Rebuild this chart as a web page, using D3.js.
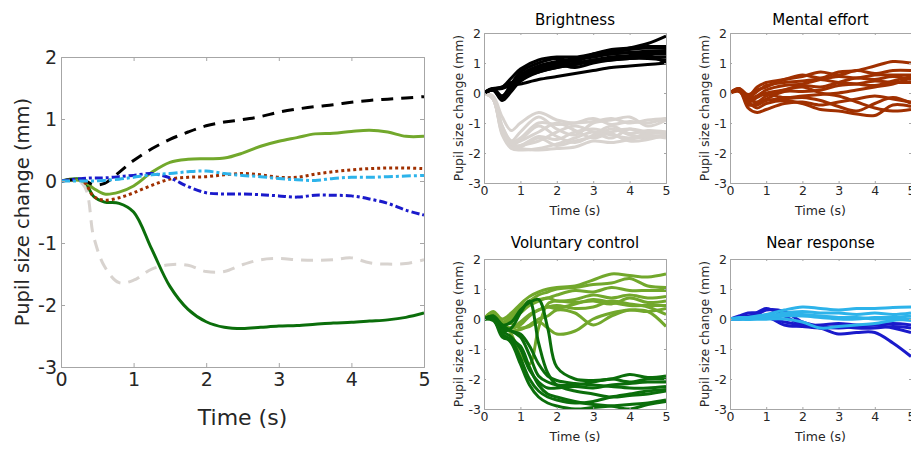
<!DOCTYPE html>
<html>
<head>
<meta charset="utf-8">
<title>Pupil size change</title>
<script src="https://d3js.org/d3.v7.min.js"></script>
<style>
  body { margin: 0; background: #fff; }
  svg { display: block; font-family: "DejaVu Sans", Verdana, sans-serif; }
  .tick text { fill: #262626; }
</style>
</head>
<body>
<div class="chart"></div>
<script>
  // ---- main panel: mean traces ----
  const mainTime = [0, 0.3, 0.45, 0.6, 0.8, 1, 1.25, 1.5, 1.75, 2, 2.25, 2.5, 2.75, 3, 3.25, 3.5, 3.75, 4, 4.25, 4.5, 4.75, 5];
  const meanGray      = [0, -0.05, -0.9, -1.38, -1.64, -1.6, -1.42, -1.35, -1.36, -1.46, -1.46, -1.35, -1.27, -1.25, -1.27, -1.28, -1.27, -1.24, -1.32, -1.34, -1.33, -1.27];
  const meanDarkGreen = [0, 0.02, -0.25, -0.34, -0.36, -0.5, -1.1, -1.7, -2.07, -2.27, -2.36, -2.38, -2.36, -2.34, -2.33, -2.31, -2.29, -2.28, -2.26, -2.24, -2.2, -2.13];
  const meanLightGreen= [0, 0, -0.12, -0.21, -0.18, -0.08, 0.14, 0.3, 0.35, 0.36, 0.37, 0.45, 0.56, 0.64, 0.7, 0.76, 0.77, 0.8, 0.82, 0.79, 0.72, 0.72];
  const meanBlack     = [0, 0.02, -0.06, -0.04, 0.14, 0.33, 0.52, 0.67, 0.79, 0.89, 0.95, 0.99, 1.04, 1.11, 1.16, 1.2, 1.23, 1.27, 1.3, 1.32, 1.34, 1.36];
  const meanBrown     = [0, 0, -0.25, -0.31, -0.27, -0.19, -0.07, 0.03, 0.06, 0.07, 0.1, 0.12, 0.1, 0.06, 0.06, 0.11, 0.15, 0.18, 0.2, 0.21, 0.21, 0.2];
  const meanCyan      = [0, 0, 0, 0.01, 0.03, 0.06, 0.1, 0.12, 0.15, 0.16, 0.12, 0.09, 0.07, 0.04, 0.02, 0.01, 0.04, 0.06, 0.06, 0.07, 0.08, 0.09];
  const meanBlue      = [0, 0.04, 0.05, 0.05, 0.07, 0.09, 0.12, 0.05, -0.09, -0.19, -0.21, -0.21, -0.22, -0.24, -0.26, -0.23, -0.23, -0.24, -0.29, -0.36, -0.47, -0.55];

  // ---- Brightness panel ----
  const brightTime = [0, 0.25, 0.5, 0.75, 1, 1.5, 2, 2.5, 3, 3.5, 4, 4.5, 5];
  const brightGray = [
    [0, -0.1, -0.8, -1.25, -1.0, -0.65, -0.9, -1.0, -0.95, -0.85, -1.0, -0.9, -0.85],
    [0, -0.15, -1.1, -1.6, -1.3, -0.8, -1.2, -1.4, -1.0, -0.9, -0.8, -1.1, -0.9],
    [0, -0.2, -1.3, -1.8, -1.75, -1.6, -1.3, -1.1, -1.3, -1.5, -1.2, -1.3, -1.3],
    [0, -0.2, -1.4, -1.85, -1.9, -1.85, -1.7, -1.5, -1.3, -1.4, -1.5, -1.35, -1.35],
    [0, -0.15, -1.2, -1.7, -1.6, -1.3, -1.0, -1.25, -1.5, -1.3, -1.2, -1.4, -1.45],
    [0, -0.2, -1.35, -1.75, -1.8, -1.5, -1.75, -1.6, -1.45, -1.2, -1.4, -1.5, -1.4],
    [0, -0.2, -1.3, -1.8, -1.85, -1.9, -1.85, -1.8, -1.6, -1.65, -1.55, -1.45, -1.5],
    [0, -0.15, -1.1, -1.6, -1.55, -1.1, -1.45, -1.65, -1.4, -1.1, -1.35, -1.25, -1.3],
    [0, -0.2, -1.25, -1.7, -1.75, -1.45, -1.55, -1.3, -1.2, -1.35, -1.6, -1.55, -1.4],
    [0, -0.15, -1.2, -1.65, -1.5, -1.0, -1.05, -1.0, -0.85, -1.05, -0.95, -1.0, -0.85]
  ];
  const brightBlack = [
    [0, 0.15, 0.2, 0.5, 0.8, 1.1, 1.2, 1.2, 1.3, 1.4, 1.5, 1.65, 1.9],
    [0, 0.15, -0.1, 0.3, 0.7, 1.0, 1.15, 1.05, 1.3, 1.45, 1.5, 1.55, 1.55],
    [0, 0.12, -0.2, 0.2, 0.6, 0.9, 1.05, 1.15, 1.25, 1.35, 1.45, 1.5, 1.5],
    [0, 0.1, -0.15, 0.15, 0.5, 0.85, 1.0, 1.1, 1.2, 1.3, 1.35, 1.4, 1.42],
    [0, 0.12, 0.2, 0.35, 0.45, 0.75, 0.95, 1.1, 1.25, 1.3, 1.35, 1.35, 1.38],
    [0, 0.1, -0.25, 0.05, 0.4, 0.75, 0.9, 1.0, 1.1, 1.2, 1.25, 1.3, 1.3],
    [0, 0.1, -0.2, 0.1, 0.45, 0.8, 0.95, 0.85, 1.0, 1.1, 1.15, 1.2, 1.2],
    [0, 0.1, -0.1, 0.2, 0.5, 0.7, 0.85, 0.95, 1.05, 1.1, 1.15, 1.15, 1.1],
    [0, 0.12, 0.15, 0.25, 0.3, 0.45, 0.55, 0.65, 0.75, 0.85, 0.9, 0.95, 1.0],
    [0, 0.1, -0.18, 0.1, 0.4, 0.7, 0.85, 0.95, 1.1, 1.15, 1.2, 1.25, 1.0]
  ];

  // ---- Mental effort panel ----
  const mentalTime = [0, 0.25, 0.5, 0.75, 1, 1.5, 2, 2.5, 3, 3.5, 4, 4.5, 5];
  const mentalBrown = [
    [0, 0.1, -0.1, 0.2, 0.35, 0.45, 0.6, 0.5, 0.7, 0.75, 0.9, 1.05, 1.0],
    [0, 0.15, -0.05, 0.1, 0.2, 0.45, 0.55, 0.7, 0.6, 0.75, 0.65, 0.75, 0.75],
    [0, 0.1, -0.2, -0.1, 0.1, 0.25, 0.3, 0.45, 0.55, 0.5, 0.6, 0.6, 0.6],
    [0, 0.1, -0.3, -0.15, 0.0, 0.1, 0.25, 0.2, 0.35, 0.5, 0.45, 0.55, 0.45],
    [0, 0.15, -0.4, -0.35, -0.2, 0.05, 0.05, 0.1, 0.25, 0.3, 0.4, 0.35, 0.35],
    [0, 0.1, -0.25, -0.1, -0.05, -0.15, -0.1, -0.05, 0.0, 0.1, 0.2, 0.3, 0.5],
    [0, 0.1, -0.5, -0.65, -0.55, -0.35, -0.3, -0.4, -0.3, -0.2, -0.1, -0.2, -0.3],
    [0, 0.1, -0.35, -0.4, -0.25, -0.2, -0.15, -0.25, -0.45, -0.6, -0.35, -0.15, -0.35],
    [0, 0.05, -0.3, -0.5, -0.35, -0.25, -0.35, -0.55, -0.6, -0.7, -0.75, -0.4, -0.45],
    [0, 0.1, -0.2, -0.3, -0.1, 0.1, 0.2, 0.0, -0.1, -0.3, -0.5, -0.6, -0.55],
    [0, 0.1, -0.15, 0.05, 0.25, 0.35, 0.4, 0.45, 0.35, 0.3, 0.25, 0.4, 0.55]
  ];

  // ---- Voluntary control panel ----
  const volTime = [0, 0.25, 0.5, 0.75, 1, 1.25, 1.5, 1.75, 2, 2.5, 3, 3.5, 4, 4.5, 5];
  const volLight = [
    [0, 0.25, 0.0, 0.2, 0.5, 0.75, 0.9, 1.0, 1.05, 1.1, 1.3, 1.5, 1.45, 1.4, 1.5],
    [0, 0.2, -0.1, 0.1, 0.4, 0.6, 0.8, 0.9, 1.0, 1.05, 1.15, 1.2, 1.35, 1.1, 1.05],
    [0, 0.2, -0.15, 0.0, 0.3, 0.55, 0.65, 0.7, 0.8, 0.95, 0.9, 1.05, 0.95, 0.95, 0.95],
    [0, 0.15, -0.2, -0.1, 0.2, 0.45, 0.6, 0.7, 0.6, 0.65, 0.8, 0.7, 0.8, 0.7, 0.75],
    [0, 0.2, -0.1, -0.5, -1.2, -1.5, -0.3, 0.5, 0.6, 0.55, 0.6, 0.5, 0.7, 0.55, 0.6],
    [0, 0.2, -0.2, -0.3, -0.2, 0.1, 0.3, 0.4, 0.35, 0.5, 0.65, 0.55, 0.45, 0.45, 0.45],
    [0, 0.2, -0.3, -0.4, -0.35, -0.2, 0.0, 0.1, 0.3, 0.2, -0.2, 0.1, 0.3, 0.25, 0.35],
    [0, 0.15, -0.25, -0.3, -0.1, 0.15, 0.3, 0.4, 0.45, 0.35, 0.4, 0.6, 0.5, 0.4, 0.15],
    [0, 0.2, -0.1, -0.15, -0.3, -0.25, -0.1, -0.3, -0.5, -0.4, 0.0, 0.2, 0.3, 0.25, -0.25]
  ];
  const volDark = [
    [0, 0.1, -0.2, -0.1, 0.3, 0.55, 0.65, -0.3, -1.6, -2.0, -2.05, -2.0, -1.85, -1.95, -1.9],
    [0, 0.05, -0.3, -0.4, -0.6, -1.2, -1.9, -2.1, -2.2, -2.2, -2.1, -2.0, -2.1, -2.0, -2.0],
    [0, 0.0, -0.4, -0.6, -1.0, -1.7, -2.1, -2.3, -2.3, -2.25, -2.3, -2.2, -2.15, -2.1, -2.1],
    [0, 0.1, -0.2, -0.4, -0.5, -0.9, -1.5, -1.9, -2.05, -2.15, -2.2, -2.25, -2.3, -2.3, -2.25],
    [0, 0.0, -0.5, -0.7, -1.3, -2.0, -2.4, -2.6, -2.7, -2.8, -2.75, -2.6, -2.5, -2.4, -2.35],
    [0, -0.05, -0.5, -0.8, -1.5, -2.2, -2.6, -2.8, -2.9, -3.0, -2.95, -2.9, -2.85, -2.8, -2.7],
    [0, 0.05, -0.4, -0.3, 0.2, 0.6, -0.8, -1.8, -2.2, -2.4, -2.5, -2.6, -2.55, -2.5, -2.4],
    [0, 0.0, -0.6, -0.7, -0.9, -1.6, -2.2, -2.5, -2.6, -2.75, -2.85, -2.9, -3.0, -2.85, -2.75]
  ];

  // ---- Near response panel ----
  const nearTime = [0, 0.25, 0.5, 0.75, 1, 1.5, 2, 2.5, 3, 3.5, 4, 4.5, 5];
  const nearDark = [
    [0, 0.1, 0.2, 0.22, 0.35, 0.1, -0.2, -0.3, -0.5, -0.45, -0.45, -0.8, -1.25],
    [0, 0.05, 0.1, 0.15, 0.3, 0.25, -0.1, -0.25, -0.3, -0.25, -0.2, -0.3, -0.45],
    [0, 0.0, 0.05, 0.1, 0.1, -0.2, -0.25, -0.3, -0.25, -0.3, -0.3, -0.25, -0.3],
    [0, 0.0, 0.05, 0.05, 0.05, -0.1, -0.2, -0.2, -0.15, -0.2, -0.2, -0.15, -0.2]
  ];
  const nearLight = [
    [0, 0.05, 0.05, 0.1, 0.15, 0.3, 0.4, 0.35, 0.3, 0.35, 0.35, 0.38, 0.4],
    [0, 0.0, 0.0, 0.05, 0.05, 0.2, 0.25, 0.2, 0.2, 0.15, 0.2, 0.15, 0.2],
    [0, 0.0, 0.0, 0.0, 0.0, 0.1, 0.1, 0.05, 0.0, 0.0, 0.05, 0.05, 0.1],
    [0, 0.0, -0.02, 0.0, 0.0, 0.0, -0.1, -0.3, -0.25, -0.2, -0.15, -0.05, 0.0],
    [0, 0.02, 0.05, 0.05, 0.1, 0.15, 0.15, 0.1, 0.05, 0.05, 0.0, 0.0, -0.05]
  ];

  const xTicks = [0, 1, 2, 3, 4, 5];
  const yTicks = [-3, -2, -1, 0, 1, 2];

  const W = 911, H = 451;
  const svg = d3.select('.chart').append('svg')
    .attr('width', W)
    .attr('height', H);

  const defs = svg.append('defs');
  let clipId = 0;

  // draw a boxed axes (MATLAB style) and return scales + group
  function makeAxes(box, opt) {
    const x = d3.scaleLinear().domain([0, 5]).range([box.x0, box.x1]);
    const y = d3.scaleLinear().domain([-3, 2]).range([box.y1, box.y0]);
    const g = svg.append('g');

    const id = 'clip' + (clipId++);
    defs.append('clipPath').attr('id', id)
      .append('rect')
      .attr('x', box.x0).attr('y', box.y0)
      .attr('width', box.x1 - box.x0).attr('height', box.y1 - box.y0);

    const lines = g.append('g').attr('clip-path', 'url(#' + id + ')');

    const axisColor = '#a6a6a6';
    const tl = opt.tick;

    // bottom / top
    const xb = g.append('g').attr('transform', 'translate(0,' + box.y1 + ')')
      .call(d3.axisBottom(x).tickValues(xTicks).tickSize(-tl).tickPadding(opt.xPad).tickFormat(d3.format('d')));
    const xt = g.append('g').attr('transform', 'translate(0,' + box.y0 + ')')
      .call(d3.axisTop(x).tickValues(xTicks).tickSize(-tl).tickFormat(''));
    const yl = g.append('g').attr('transform', 'translate(' + box.x0 + ',0)')
      .call(d3.axisLeft(y).tickValues(yTicks).tickSize(-tl).tickPadding(opt.yPad).tickFormat(d => d < 0 ? '-' + Math.abs(d) : d));
    const yr = g.append('g').attr('transform', 'translate(' + box.x1 + ',0)')
      .call(d3.axisRight(y).tickValues(yTicks).tickSize(-tl).tickFormat(''));

    [xb, xt, yl, yr].forEach(a => {
      a.select('.domain').attr('stroke', axisColor).attr('stroke-width', 1);
      a.selectAll('.tick line').attr('stroke', axisColor);
      a.selectAll('.tick text').attr('font-size', opt.tickFont).attr('font-family', '"DejaVu Sans", Verdana, sans-serif');
    });
    xb.selectAll('.tick').filter(d => d === 0 || d === 5).select('line').remove();
    xt.selectAll('.tick').filter(d => d === 0 || d === 5).select('line').remove();
    yl.selectAll('.tick').filter(d => d === -3 || d === 2).select('line').remove();
    yr.selectAll('.tick').filter(d => d === -3 || d === 2).select('line').remove();

    // labels
    g.append('text')
      .attr('x', (box.x0 + box.x1) / 2)
      .attr('y', opt.xLabelY)
      .attr('text-anchor', 'middle')
      .attr('font-size', opt.xLabelFont)
      .attr('fill', '#262626')
      .text('Time (s)');
    g.append('text')
      .attr('transform', 'translate(' + opt.yLabelX + ',' + (box.y0 + box.y1) / 2 + ') rotate(-90)')
      .attr('text-anchor', 'middle')
      .attr('dominant-baseline', 'central')
      .attr('font-size', opt.yLabelFont)
      .attr('fill', '#262626')
      .text('Pupil size change (mm)');
    if (opt.title) {
      g.append('text')
        .attr('x', (box.x0 + box.x1) / 2)
        .attr('y', opt.titleY)
        .attr('text-anchor', 'middle')
        .attr('font-size', opt.titleFont)
        .attr('fill', '#000')
        .text(opt.title);
    }
    g.raise();
    return { x, y, lines };
  }

  function drawTraces(ax, time, traces, color, width, dash) {
    const line = d3.line()
      .x((d, i) => ax.x(time[i]))
      .y(d => ax.y(d))
      .curve(d3.curveCatmullRom.alpha(0.5));
    ax.lines.selectAll(null)
      .data(traces)
      .enter()
      .append('path')
      .attr('d', line)
      .attr('fill', 'none')
      .attr('stroke', color)
      .attr('stroke-width', width)
      .attr('stroke-linejoin', 'round')
      .attr('stroke-dasharray', dash || null);
  }

  // ---- main ----
  const mainAx = makeAxes({ x0: 61, x1: 424, y0: 57, y1: 367 }, {
    tick: 4, xPad: 6, yPad: 4, tickFont: '19px',
    xLabelY: 425, xLabelFont: '22px', yLabelX: 22, yLabelFont: '19.5px'
  });
  const lightGray = '#d8d3cf', black = '#000000', brown = '#a03000',
        lightGreen = '#72a82c', darkGreen = '#0b6e0b', darkBlue = '#1a1acb', lightBlue = '#2db3ea';

  drawTraces(mainAx, mainTime, [meanGray], lightGray, 3, '12,8');
  drawTraces(mainAx, mainTime, [meanDarkGreen], darkGreen, 3);
  drawTraces(mainAx, mainTime, [meanLightGreen], lightGreen, 3);
  drawTraces(mainAx, mainTime, [meanBlack], black, 3, '12,8');
  drawTraces(mainAx, mainTime, [meanBrown], brown, 3, '3,3');
  drawTraces(mainAx, mainTime, [meanBlue], darkBlue, 3, '8,3,3,3');
  drawTraces(mainAx, mainTime, [meanCyan], lightBlue, 3, '9,3,3,3');

  // ---- small panels ----
  const smallOpt = { tick: 2, xPad: 3, yPad: 3, tickFont: '12.5px', xLabelFont: '12.5px', yLabelFont: '12.5px', titleFont: '15px' };

  const brAx = makeAxes({ x0: 484, x1: 666, y0: 33, y1: 183 },
    Object.assign({}, smallOpt, { title: 'Brightness', titleY: 25, xLabelY: 215, yLabelX: 458 }));
  drawTraces(brAx, brightTime, brightGray, lightGray, 3);
  drawTraces(brAx, brightTime, brightBlack, black, 3);

  const meAx = makeAxes({ x0: 730, x1: 911, y0: 33, y1: 183 },
    Object.assign({}, smallOpt, { title: 'Mental effort', titleY: 25, xLabelY: 215, yLabelX: 704 }));
  drawTraces(meAx, mentalTime, mentalBrown, brown, 3);

  const voAx = makeAxes({ x0: 484, x1: 666, y0: 259, y1: 409 },
    Object.assign({}, smallOpt, { title: 'Voluntary control', titleY: 248, xLabelY: 441, yLabelX: 458 }));
  drawTraces(voAx, volTime, volLight, lightGreen, 3);
  drawTraces(voAx, volTime, volDark, darkGreen, 3);

  const neAx = makeAxes({ x0: 730, x1: 911, y0: 259, y1: 409 },
    Object.assign({}, smallOpt, { title: 'Near response', titleY: 248, xLabelY: 441, yLabelX: 704 }));
  drawTraces(neAx, nearTime, nearDark, darkBlue, 3);
  drawTraces(neAx, nearTime, nearLight, lightBlue, 3);
</script>
</body>
</html>
